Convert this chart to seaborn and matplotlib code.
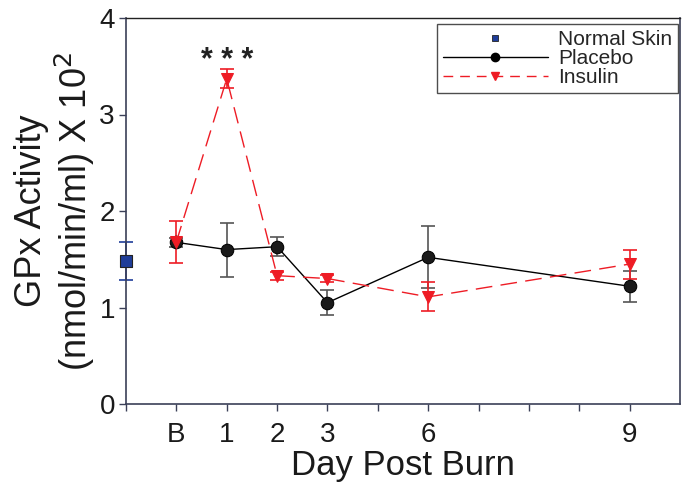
import matplotlib
matplotlib.use("Agg")
import matplotlib.pyplot as plt
import seaborn as sns
import pandas as pd
from matplotlib.lines import Line2D

# x positions on the axis (B = 1, day 1 = 2, ... day 9 = 10)
day_labels = ["B", "1", "2", "3", "6", "9"]
day_pos = [1, 2, 3, 4, 6, 10]

placebo = [1.675, 1.60, 1.63, 1.05, 1.52, 1.22]
placebo_err = [0.05, 0.28, 0.10, 0.13, 0.32, 0.16]
insulin = [1.68, 3.37, 1.33, 1.30, 1.11, 1.45]
insulin_err = [0.22, 0.10, 0.04, 0.04, 0.15, 0.15]

normal_pos = [0]
normal_skin = [1.48]
normal_err = [0.20]

RED = "#ee1c25"
BLUE = "#1f3d99"
SPINE = "#3b4058"

sns.set_style("white")
plt.rcParams["font.family"] = ["Liberation Sans", "DejaVu Sans"]

df = pd.DataFrame({
    "Day": day_pos * 2,
    "GPx": placebo + insulin,
    "Group": ["Placebo"] * 6 + ["Insulin"] * 6,
})

fig = plt.figure(figsize=(6.9, 4.84), dpi=100)
ax = fig.add_axes([126 / 690, 1 - 404 / 484, 554 / 690, 386 / 484])

# error bars
ax.errorbar(day_pos, placebo, yerr=placebo_err, fmt="none", ecolor="#555555",
            elinewidth=1.2, capsize=5, capthick=1.2, zorder=2)
ax.errorbar(day_pos, insulin, yerr=insulin_err, fmt="none", ecolor=RED,
            elinewidth=1.2, capsize=5, capthick=1.2, zorder=2)
ax.errorbar(normal_pos, normal_skin, yerr=normal_err, fmt="none", ecolor=BLUE,
            elinewidth=1.2, capsize=5, capthick=1.2, zorder=2, clip_on=False)

sns.lineplot(data=df[df.Group == "Placebo"], x="Day", y="GPx", ax=ax,
             color="black", linewidth=1, marker="o", markersize=9,
             markerfacecolor="#1a1a1a", markeredgecolor="black", zorder=3)
sns.lineplot(data=df[df.Group == "Insulin"], x="Day", y="GPx", ax=ax,
             color=RED, linewidth=1, dashes=(12, 6), marker="v", markersize=9,
             markerfacecolor=RED, markeredgecolor=RED, zorder=4)
sns.scatterplot(x=normal_pos, y=normal_skin, ax=ax, marker="s", s=80,
                color=BLUE, edgecolor="#222222", linewidth=0.8, zorder=5,
                clip_on=False)

ax.text(2, 3.55, "* * *", ha="center", va="center", fontsize=22,
        fontweight="bold", color="#222222")

ax.set_xlim(0, 11)
ax.set_ylim(0, 4)
ax.set_xticks(range(0, 11))
ax.set_xticklabels(["", "B", "1", "2", "3", "", "6", "", "", "", "9"])
ax.set_yticks([0, 1, 2, 3, 4])
ax.tick_params(axis="both", labelsize=20, colors=SPINE, labelcolor="#1a1a1a",
               length=5, width=1, direction="out", bottom=True, left=True)
ax.tick_params(axis="x", pad=8)
ax.tick_params(axis="y", pad=3)
for s in ax.spines.values():
    s.set_color(SPINE)
    s.set_linewidth(1.2)
ax.spines["top"].set_color("#222222")
ax.spines["top"].set_linewidth(1.0)

ax.set_xlabel("Day Post Burn", fontsize=25, color="#1a1a1a", labelpad=1)
ax.set_ylabel("GPx Activity\n(nmol/min/ml) X 10$^2$", fontsize=26,
              color="#1a1a1a", labelpad=2, linespacing=1.1)

handles = [
    Line2D([], [], color=BLUE, marker="s", linestyle="none", markersize=5,
           markeredgecolor="#222222", markeredgewidth=0.6),
    Line2D([], [], color="black", marker="o", linewidth=1, markersize=6),
    Line2D([], [], color=RED, marker="v", linewidth=1, dashes=(7, 5),
           markersize=6),
]
leg = ax.legend(handles, ["Normal Skin", "Placebo", "Insulin"],
                loc="upper right", bbox_to_anchor=(0.997, 0.985), fontsize=15,
                frameon=True, fancybox=False, edgecolor="#222222",
                handlelength=5.0, labelspacing=0.0, borderpad=0.3,
                handletextpad=0.5, borderaxespad=0.0)
leg.get_frame().set_linewidth(1.0)

ax.grid(False)
fig.savefig("out.png", dpi=100)
